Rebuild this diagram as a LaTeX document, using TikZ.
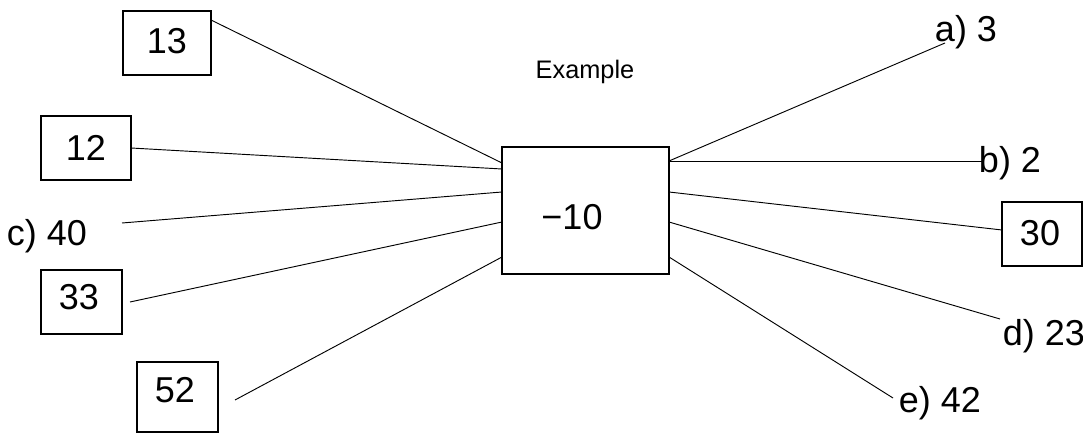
\documentclass[tikz,border=0pt]{standalone}
\usepackage{fontspec}
\setmainfont{Liberation Sans}
\begin{document}
\begin{tikzpicture}[x=0.75pt,y=-0.75pt,
  box/.style={draw,line width=1.1pt,inner sep=0pt,minimum width=#1},
  lab/.style={inner sep=0pt,font=\fontsize{27}{30}\selectfont},
  conn/.style={line width=0.7pt}]
\useasboundingbox (0,0) rectangle (1083,434);
% central box
\node[box=125.25pt,minimum height=95.25pt] (c) at (585.5,210.5) {};
\node[lab] (cv) at (572,217) {−10};
\node[inner sep=0pt,font=\fontsize{19}{22}\selectfont] (ex) at (585,72) {Example};
% boxes
\node[box=66pt,minimum height=48pt] (b13) at (167,43) {};
\node[lab] (t13) at (167,41) {13};
\node[box=67.5pt,minimum height=48pt] (b12) at (86,148) {};
\node[lab] (t12) at (86,148) {12};
\node[box=60.75pt,minimum height=48pt] (b33) at (81.5,302) {};
\node[lab] (t33) at (79,297) {33};
\node[box=60.75pt,minimum height=52.5pt] (b52) at (177.5,397) {};
\node[lab] (t52) at (175,390) {52};
\node[box=60pt,minimum height=48pt] (b30) at (1042,234) {};
\node[lab] (t30) at (1040,233) {30};
% labels
\node[lab,anchor=base] (la) at (966,42) {a) 3};
\node[lab,anchor=base] (lb) at (1010,173) {b) 2};
\node[lab,anchor=base] (lc) at (47,246) {c) 40};
\node[lab,anchor=base] (ld) at (1044,346) {d) 23};
\node[lab,anchor=base] (le) at (940,413) {e) 42};
% endpoints
\coordinate (p13) at (211,20);
\coordinate (p12) at (131,148);
\coordinate (pc) at (122,223);
\coordinate (p33) at (130,302);
\coordinate (p52) at (235,400);
\coordinate (pa) at (945,43);
\coordinate (pb) at (982,161);
\coordinate (p30) at (1002,230);
\coordinate (pd) at (1000,319);
\coordinate (pe) at (893,398);
\coordinate (cl1) at (502,163);
\coordinate (cl2) at (502,169);
\coordinate (cl3) at (502,192);
\coordinate (cl4) at (502,222);
\coordinate (cl5) at (502,257);
\coordinate (cr1) at (669,161);
\coordinate (cr3) at (669,192);
\coordinate (cr4) at (669,222);
\coordinate (cr5) at (669,257);
% connectors
\draw[conn] (p13) -- (cl1);
\draw[conn] (p12) -- (cl2);
\draw[conn] (pc) -- (cl3);
\draw[conn] (p33) -- (cl4);
\draw[conn] (p52) -- (cl5);
\draw[conn] (cr1) -- (pa);
\draw[conn] (cr1) -- (pb);
\draw[conn] (cr3) -- (p30);
\draw[conn] (cr4) -- (pd);
\draw[conn] (cr5) -- (pe);
\end{tikzpicture}
\end{document}
